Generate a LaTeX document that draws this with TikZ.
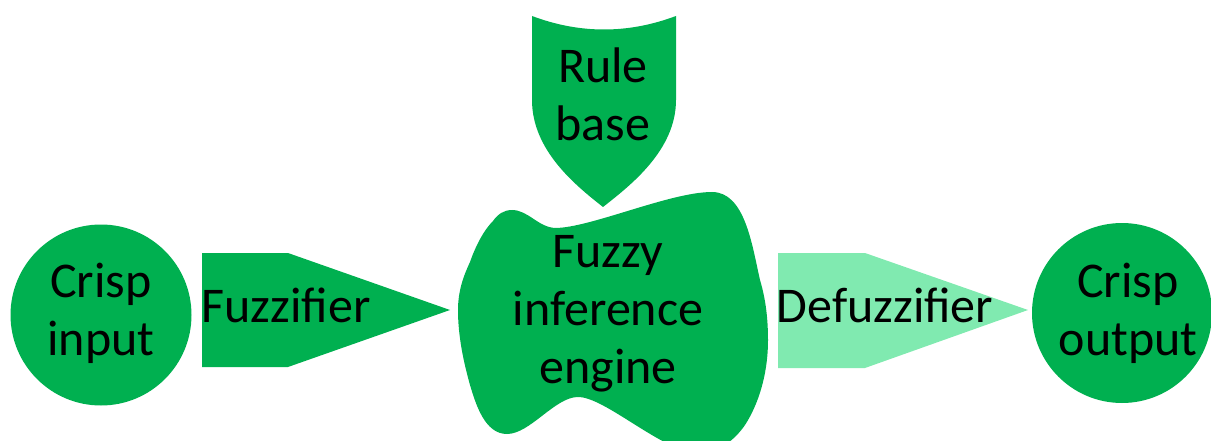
\documentclass[tikz,border=0pt]{standalone}
\usepackage{fontspec}
\setmainfont{Carlito}
\definecolor{mainGreen}{RGB}{0,176,80}
\definecolor{paleGreen}{RGB}{128,234,176}
\tikzset{
  shapefill/.style={fill=mainGreen, draw=none},
  palefill/.style={fill=paleGreen, draw=none},
  lbl/.style={font=\fontsize{50}{58}\selectfont, text=black, align=center, inner sep=0pt},
}
\begin{document}
\begin{tikzpicture}[x=1pt,y=-1pt]
\useasboundingbox (0,0) rectangle (1211,441);
\begin{scope}
\clip (0,0) rectangle (1211,441);
% Crisp input
\fill[shapefill] (101,315) circle (90.5);
% Fuzzifier
\fill[shapefill] (202,253) -- (288,253) -- (450,310) -- (288,367) -- (202,367) -- cycle;
% Rule base shield
\fill[shapefill] (532,16) -- (532,100) .. controls (532,150) and (575,185) .. (603,207)
  .. controls (631,185) and (676,150) .. (676,100) -- (676,16)
  .. controls (628,34) and (580,34) .. (532,16) -- cycle;
% Fuzzy inference engine blob
\fill[shapefill] (470,262) .. controls (476,245) and (484,230) .. (493,221)
  .. controls (498,214) and (504,210) .. (512,210)
  .. controls (528,210) and (538,227) .. (555,228)
  .. controls (590,228) and (670,192) .. (712,192)
  .. controls (745,192) and (752,245) .. (760,280)
  .. controls (766,300) and (768,320) .. (768,340)
  .. controls (768,375) and (758,405) .. (745,425)
  .. controls (735,440) and (715,455) .. (700,455)
  .. controls (660,450) and (605,397) .. (578,397)
  .. controls (555,397) and (530,434) .. (507,434)
  .. controls (485,434) and (476,405) .. (470,385)
  .. controls (463,360) and (458,335) .. (458,310)
  .. controls (458,290) and (464,275) .. (470,262) -- cycle;
% Defuzzifier
\fill[palefill] (778,253) -- (865,253) -- (1028,310) -- (865,368) -- (778,368) -- cycle;
% Crisp output
\fill[shapefill] (1122,313) circle (90);
\end{scope}
\node[lbl] (cin) at (101,313) {Crisp\\input};
\node[lbl, anchor=base] (fuz) at (286,322) {Fuzzifier};
\node[lbl] (rb) at (603,94) {Rule\\base};
\node[lbl] (fie) at (608,314) {Fuzzy\\inference\\engine};
\node[lbl, anchor=base] (defuz) at (885,322) {Defuzzifier};
\node[lbl] (cout) at (1128,313) {Crisp\\output};
\end{tikzpicture}
\end{document}
